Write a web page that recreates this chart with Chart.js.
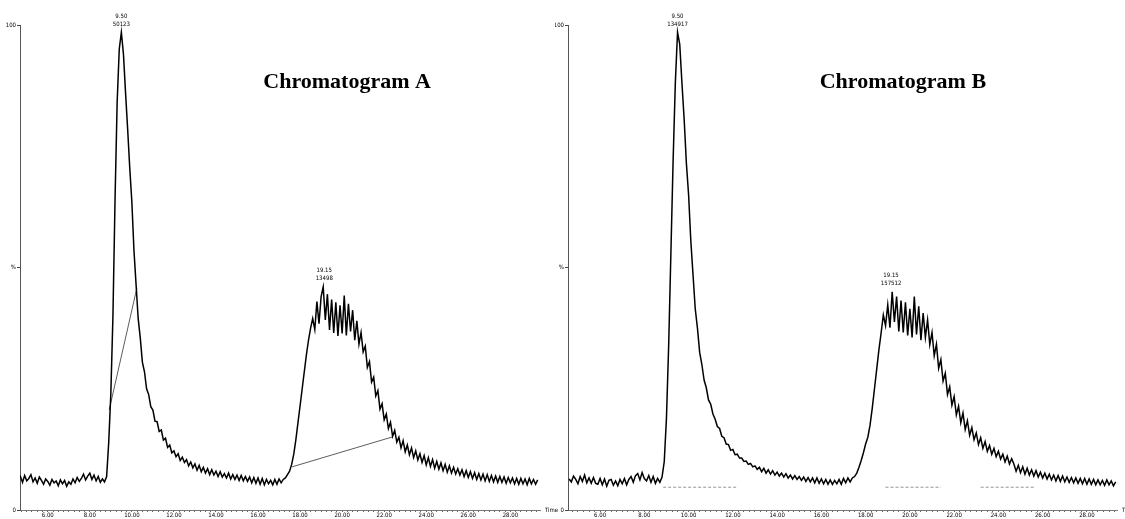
<!DOCTYPE html>
<html><head><meta charset="utf-8">
<script src="https://cdn.jsdelivr.net/npm/chart.js@4.4.1/dist/chart.umd.min.js"></script>
<style>
html,body{margin:0;padding:0;background:#fff;overflow:hidden}
#wrap{position:relative;width:1125px;height:519px;background:#fff}
canvas{position:absolute;top:0}
#ca{left:0}
#cb{left:555px}
</style></head><body>
<div id="wrap"><canvas id="ca" width="560" height="519"></canvas><canvas id="cb" width="570" height="519"></canvas></div>
<script>
// Retention time grid of the traces (minutes)
const START_TIME = 4.6, TIME_STEP = 0.1;

const intensityA = [
 6.3,
 6.9, 5.7, 7.1, 6.0, 6.5, 7.3, 5.8, 6.6, 5.5, 6.8,
 6.1, 5.3, 6.4, 5.9, 5.1, 6.3, 5.6, 6.0, 5.0, 6.2,
 5.4, 6.1, 4.9, 5.8, 5.3, 6.4, 5.6, 6.7, 5.9, 6.5,
 7.4, 6.2, 7.0, 7.6, 6.3, 7.2, 6.0, 6.9, 5.7, 6.4,
 5.8, 6.9, 14.0, 24.0, 40.0, 64.0, 84.0, 95.0, 98.5, 94.0,
 86.0, 78.5, 70.5, 63.5, 53.5, 46.5, 39.5, 35.5, 30.5, 28.5,
 25.0, 23.8, 21.3, 20.6, 18.3, 18.2, 16.2, 16.5, 14.4, 14.8,
 12.9, 13.4, 11.8, 12.2, 11.0, 11.6, 10.2, 10.9, 9.8, 10.4,
 9.1, 9.9, 8.7, 9.5, 8.2, 9.2, 7.9, 8.8, 7.6, 8.5,
 7.3, 8.3, 7.2, 8.0, 6.9, 7.9, 6.8, 7.5, 6.6, 7.6,
 6.4, 7.3, 6.3, 7.2, 6.1, 7.1, 6.0, 6.9, 5.9, 6.8,
 5.6, 6.7, 5.5, 6.6, 5.3, 6.5, 5.2, 6.3, 5.4, 6.1,
 5.2, 6.3, 5.3, 6.4, 5.6, 6.3, 6.6, 7.3, 8.0, 9.4,
 11.5, 14.5, 18.0, 21.5, 25.0, 28.5, 32.0, 35.0, 37.5, 39.5,
 37.2, 43.0, 38.4, 44.0, 46.0, 39.2, 44.5, 37.1, 43.4, 36.5,
 42.8, 35.9, 42.2, 36.4, 44.2, 36.0, 42.5, 36.8, 41.2, 35.0,
 39.0, 34.2, 36.6, 32.6, 33.8, 29.4, 30.6, 26.4, 27.4, 23.5,
 24.6, 20.8, 21.9, 18.6, 19.8, 16.8, 18.1, 15.2, 16.4, 14.0,
 15.0, 12.8, 14.3, 12.0, 13.4, 11.4, 12.8, 10.8, 12.2, 10.3,
 11.6, 9.8, 11.2, 9.3, 10.8, 9.0, 10.4, 8.6, 10.0, 8.4,
 9.7, 8.1, 9.4, 7.8, 9.1, 7.6, 8.8, 7.4, 8.5, 7.2,
 8.3, 6.9, 8.1, 6.7, 7.9, 6.5, 7.7, 6.3, 7.5, 6.2,
 7.4, 6.0, 7.3, 5.9, 7.1, 5.8, 7.0, 5.7, 6.9, 5.7,
 6.8, 5.5, 6.7, 5.6, 6.6, 5.4, 6.5, 5.3, 6.5, 5.4,
 6.4, 5.2, 6.5, 5.4, 6.3, 5.3, 6.2
];

const intensityB = [
 6.4,
 5.8, 7.0, 6.3, 5.4, 6.9, 5.9, 7.2, 5.6, 6.6, 5.5,
 6.7, 5.5, 5.3, 6.5, 5.2, 6.4, 4.9, 6.1, 6.3, 5.1,
 6.0, 5.0, 6.3, 5.4, 6.5, 5.2, 6.3, 6.9, 5.7, 7.1,
 7.5, 6.2, 7.7, 6.5, 6.0, 7.1, 5.7, 6.9, 5.5, 6.5,
 5.7, 6.8, 10.0, 19.0, 34.0, 53.0, 72.0, 88.0, 98.5, 96.0,
 88.0, 80.5, 71.5, 65.0, 55.5, 48.5, 41.5, 37.5, 32.5, 30.0,
 26.8, 25.2, 22.7, 21.8, 19.8, 18.7, 17.2, 16.8, 15.2, 14.9,
 13.6, 13.5, 12.3, 12.5, 11.4, 11.5, 10.7, 10.7, 10.0, 10.1,
 9.4, 9.6, 8.9, 9.1, 8.4, 8.8, 7.9, 8.6, 7.6, 8.3,
 7.4, 8.1, 7.2, 7.8, 7.0, 7.6, 6.8, 7.5, 6.6, 7.2,
 6.4, 7.1, 6.3, 6.9, 6.1, 6.8, 5.9, 6.7, 5.8, 6.6,
 5.6, 6.6, 5.5, 6.4, 5.4, 6.3, 5.3, 6.2, 5.3, 6.1,
 5.4, 6.3, 5.3, 6.5, 5.6, 6.6, 5.8, 6.6, 6.9, 7.6,
 8.8, 10.2, 11.8, 13.6, 15.0, 17.5, 21.0, 25.0, 29.0, 33.0,
 36.5, 40.2, 38.0, 42.3, 37.6, 45.0, 38.8, 44.0, 36.8, 43.2,
 36.6, 42.8, 36.0, 41.5, 35.6, 44.0, 36.2, 42.0, 35.0, 40.6,
 35.6, 39.2, 34.1, 36.6, 31.8, 34.2, 29.2, 31.0, 26.6, 28.2,
 23.8, 25.4, 21.6, 23.4, 19.6, 21.4, 18.0, 20.0, 16.6, 18.4,
 15.4, 17.0, 14.5, 15.9, 13.5, 14.9, 12.7, 14.1, 12.1, 13.3,
 11.5, 12.7, 11.0, 12.1, 10.5, 11.5, 9.9, 11.1, 9.5, 10.6,
 9.5, 8.0, 9.2, 7.7, 8.9, 7.4, 8.6, 7.2, 8.3, 7.0,
 8.1, 6.8, 7.8, 6.6, 7.6, 6.4, 7.4, 6.2, 7.2, 6.0,
 7.1, 5.9, 7.0, 5.8, 6.8, 5.7, 6.7, 5.6, 6.6, 5.5,
 6.5, 5.4, 6.5, 5.3, 6.4, 5.3, 6.3, 5.2, 6.2, 5.2,
 6.1, 5.1, 6.2, 5.2, 6.0, 5.0, 5.8
];

// Axis ticks
const majorTimes = [6, 8, 10, 12, 14, 16, 18, 20, 22, 24, 26, 28];
const timeTickLabels = ['6.00','8.00','10.00','12.00','14.00','16.00','18.00','20.00','22.00','24.00','26.00','28.00'];
const yTickValues = [0, 50, 100];
const yTickLabels = ['0', '%', '100'];

// Peak annotations
const peakTimes = [9.50, 19.15];
const peakTimeLabels = ['9.50', '19.15'];
const peakHeightsA = [98.5, 46.0];
const peakAreasA = ['50123', '13498'];
const peakHeightsB = [98.5, 45.0];
const peakAreasB = ['134917', '157512'];

// Integration baselines (time, %)
const integLineA1 = [{x: 8.92, y: 20.6}, {x: 10.24, y: 45.8}];
const integLineA2 = [{x: 17.62, y: 8.9}, {x: 22.42, y: 15.1}];
const baseSegB1 = [{x: 8.85, y: 4.7}, {x: 12.2, y: 4.7}];
const baseSegB2 = [{x: 18.9, y: 4.7}, {x: 21.4, y: 4.7}];
const baseSegB3 = [{x: 23.2, y: 4.7}, {x: 25.6, y: 4.7}];

function toPoints(arr){
  return arr.map((v, i) => ({x: +(START_TIME + i * TIME_STEP).toFixed(2), y: v}));
}

const textPlugin = {
  id: 'texts',
  afterDatasetsDraw(chart, args, o){
    const {ctx, chartArea, scales} = chart;
    const xs = scales.x, ys = scales.y;
    ctx.save();
    ctx.fillStyle = '#000';
    ctx.textAlign = 'center';
    ctx.textBaseline = 'middle';
    ctx.font = 'bold 22px "Liberation Serif", "Times New Roman", serif';
    ctx.fillText(o.title, chartArea.left + o.titleFrac * (chartArea.right - chartArea.left), o.titleY);
    ctx.font = '6px "Liberation Sans Narrow", "DejaVu Sans Condensed", sans-serif';
    o.peakTimes.forEach((t, i) => {
      const px = xs.getPixelForValue(t);
      const py = ys.getPixelForValue(o.peakHeights[i]);
      ctx.fillText(o.peakTimeLabels[i], px, py - 16);
      ctx.fillText(o.peakAreas[i], px, py - 8);
    });
    ctx.textAlign = 'left';
    ctx.fillText('Time', chartArea.right + 5, chartArea.bottom);
    ctx.restore();
  }
};

function minorTicks(){
  const t = [];
  for (let v = 4.75; v <= 29.25; v += 0.25) t.push({value: v});
  return t;
}

const tickFont = {family: '"Liberation Sans Narrow", "DejaVu Sans Condensed", sans-serif', size: 6};

function makeChart(id, values, extra, cfg){
  const datasets = [{
    data: toPoints(values), borderColor: '#000', borderWidth: 1.5,
    pointRadius: 0, tension: 0, fill: false
  }].concat(extra);
  return new Chart(document.getElementById(id), {
    type: 'line',
    data: {datasets},
    options: {
      responsive: false, animation: false, events: [],
      layout: {padding: {left: 0, right: cfg.padRight, top: 25, bottom: 0}},
      plugins: {
        legend: {display: false}, tooltip: {enabled: false},
        texts: {
          title: cfg.title, titleFrac: cfg.titleFrac, titleY: 82,
          peakTimes, peakTimeLabels, peakHeights: cfg.peakHeights, peakAreas: cfg.peakAreas
        }
      },
      scales: {
        x: {
          type: 'linear', min: cfg.xmin, max: cfg.xmax,
          afterFit(s){ s.height = 9; },
          afterBuildTicks(s){ s.ticks = minorTicks(); },
          ticks: {
            autoSkip: false, maxRotation: 0, padding: 0, color: '#000', font: tickFont,
            callback(v){ const k = majorTimes.indexOf(v); return k >= 0 ? timeTickLabels[k] : ''; }
          },
          grid: {drawOnChartArea: false, tickLength: 2, color: '#666'},
          border: {color: '#777', dash: [1, 2]}
        },
        y: {
          min: 0, max: 100,
          afterFit(s){ s.width = cfg.yWidth; },
          afterBuildTicks(s){ s.ticks = yTickValues.map(v => ({value: v})); },
          ticks: {
            autoSkip: false, padding: 1, color: '#000', font: tickFont,
            callback(v){ const k = yTickValues.indexOf(v); return k >= 0 ? yTickLabels[k] : ''; }
          },
          grid: {drawOnChartArea: false, tickLength: 3, color: '#444'},
          border: {color: '#555'}
        }
      }
    },
    plugins: [textPlugin]
  });
}

const thin = {borderColor: '#333', borderWidth: 0.8, pointRadius: 0, tension: 0, fill: false};
const dashed = {borderColor: '#777', borderWidth: 0.8, borderDash: [3, 2], pointRadius: 0, tension: 0, fill: false};

makeChart('ca', intensityA, [
  Object.assign({data: integLineA1}, thin),
  Object.assign({data: integLineA2}, thin)
], {xmin: 4.68, xmax: 29.41, padRight: 20, yWidth: 20, title: 'Chromatogram A', titleFrac: 0.629,
    peakHeights: peakHeightsA, peakAreas: peakAreasA});

makeChart('cb', intensityB, [
  Object.assign({data: baseSegB1}, dashed),
  Object.assign({data: baseSegB2}, dashed),
  Object.assign({data: baseSegB3}, dashed)
], {xmin: 4.55, xmax: 29.36, padRight: 8, yWidth: 13, title: 'Chromatogram B', titleFrac: 0.61,
    peakHeights: peakHeightsB, peakAreas: peakAreasB});
</script>
</body></html>
